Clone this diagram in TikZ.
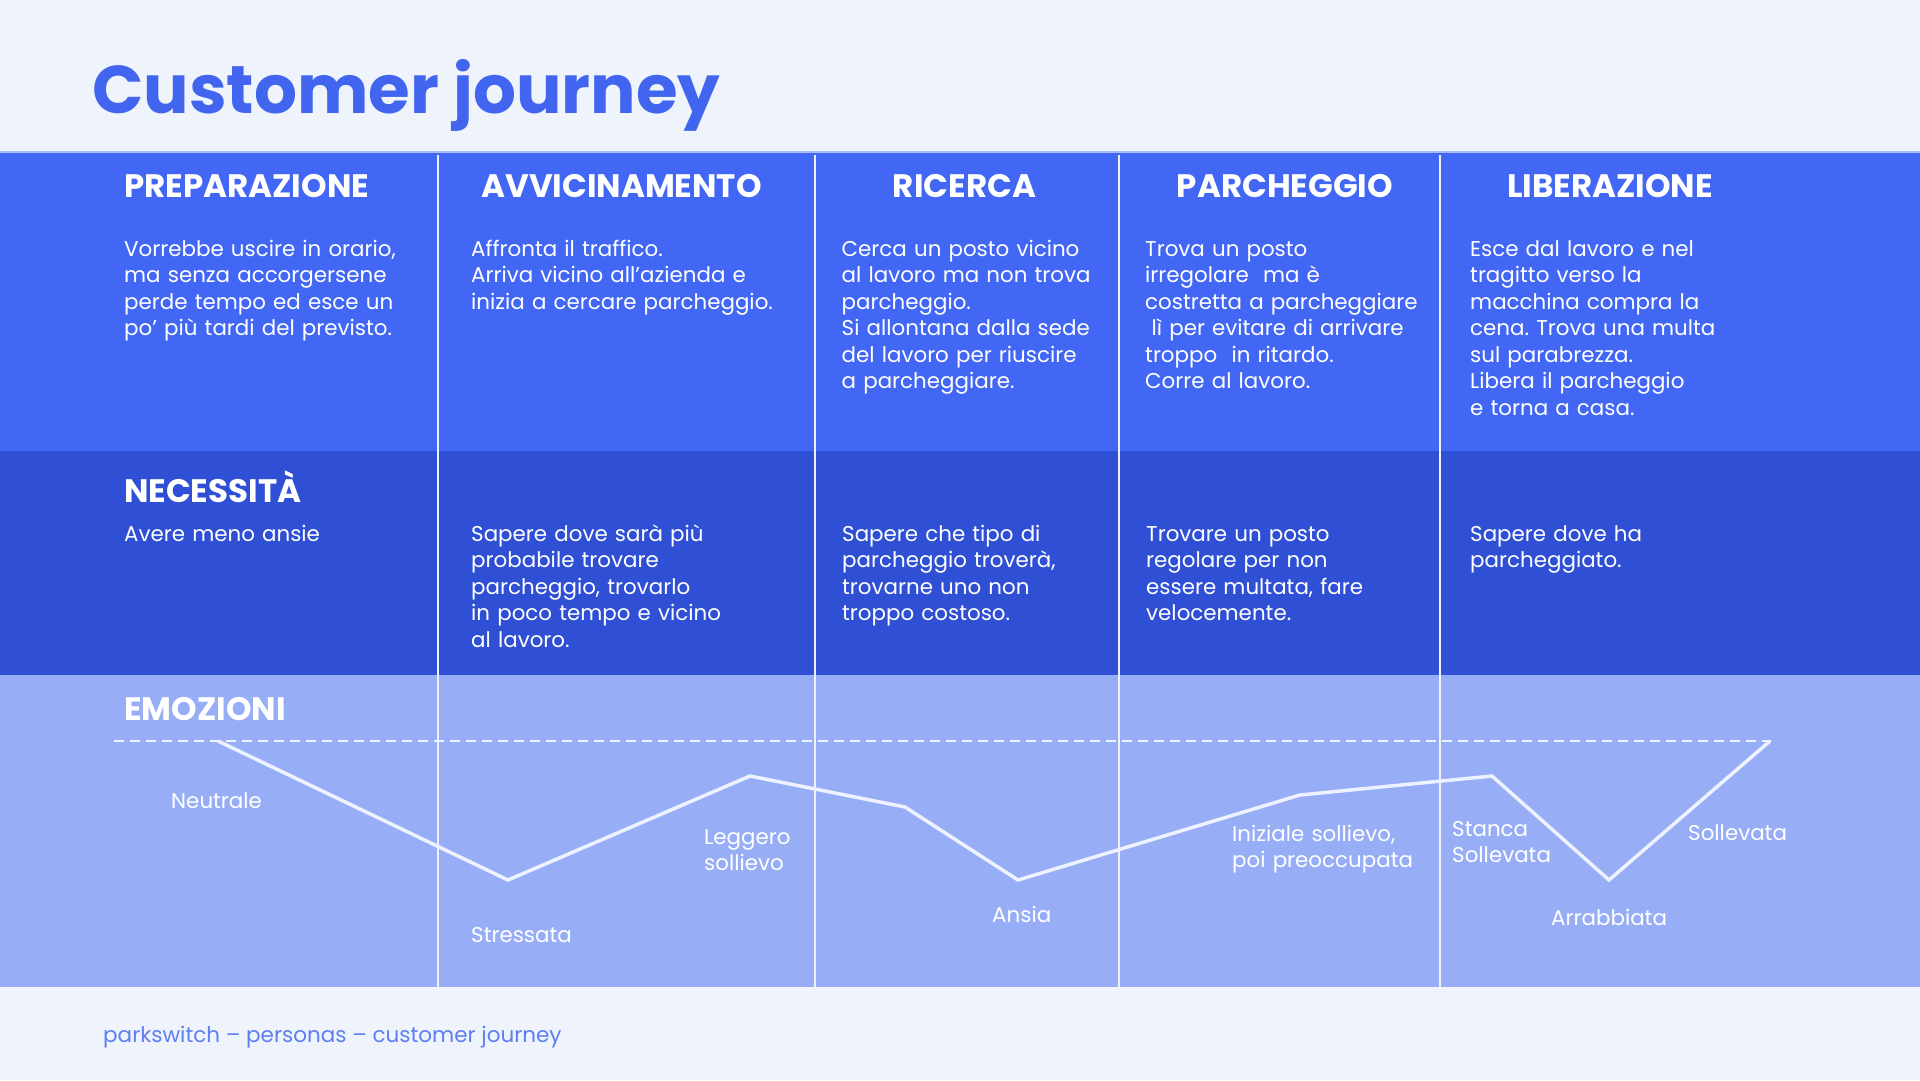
\documentclass[tikz,border=0pt]{standalone}
\usepackage{fontspec}
\setmainfont{Poppins}
\frenchspacing
\definecolor{bgc}{HTML}{EFF4FC}
\definecolor{titlec}{HTML}{4265F0}
\definecolor{topc}{HTML}{4267F5}
\definecolor{midc}{HTML}{2F4FD4}
\definecolor{emoc}{HTML}{97AEF7}
\definecolor{footc}{HTML}{5E7FF0}
\definecolor{linec}{HTML}{EEF1FF}
\definecolor{edgec}{HTML}{A9BCF8}
\tikzset{
  head/.style={anchor=base, inner sep=0pt, text=white, font=\fontsize{32.5}{36}\selectfont\bfseries},
  lefthead/.style={anchor=base west, inner sep=0pt, text=white, font=\fontsize{32.5}{36}\selectfont\bfseries},
  body/.style={anchor=base west, inner sep=0pt, text=white, font=\fontsize{21.4}{26.5}\selectfont, text width=360pt, align=left},
  sepline/.style={draw=linec, line width=2pt},
  curve/.style={draw=linec, line width=3.5pt, line join=miter},
  baseline/.style={draw=linec, line width=2.5pt, dash pattern=on 10pt off 6pt},
}
\begin{document}
\begin{tikzpicture}[x=1pt,y=-1pt]
\useasboundingbox (0,0) rectangle (1920,1080);
\fill[bgc] (0,0) rectangle (1920,1080);
% bands
\fill[topc] (0,152) rectangle (1920,451);
\fill[midc] (0,451) rectangle (1920,675);
\fill[emoc] (0,675) rectangle (1920,987);
\draw[edgec, line width=1.5pt] (0,152) -- (1920,152);
% separators
\foreach \x/\n in {438/s1,815/s2,1119/s3,1440/s4}{
  \coordinate (\n top) at (\x,155);
  \coordinate (\n bot) at (\x,987);
  \draw[sepline] (\n top) -- (\n bot);
}
% title
\node[anchor=base west, inner sep=0pt, text=titlec, font=\fontsize{67.5}{80}\selectfont\bfseries] (title) at (92,113) {Customer journey};
% headers
\node[lefthead] (h1) at (124,197.7) {PREPARAZIONE};
\node[head] (h2) at (621.5,197.7) {AVVICINAMENTO};
\node[head] (h3) at (964.5,197.7) {RICERCA};
\node[head] (h4) at (1285,197.7) {PARCHEGGIO};
\node[head] (h5) at (1610,197.7) {LIBERAZIONE};
% step descriptions
\node[body] (d1) at (124,256) {Vorrebbe uscire in orario,\\ma senza accorgersene\\perde tempo ed esce un\\po’ più tardi del previsto.};
\node[body] (d2) at (471,256) {Affronta il traffico.\\Arriva vicino all’azienda e\\inizia a cercare parcheggio.};
\node[body] (d3) at (841.5,256) {Cerca un posto vicino\\al lavoro ma non trova\\parcheggio.\\Si allontana dalla sede\\del lavoro per riuscire\\a parcheggiare.};
\node[body] (d4) at (1145,256) {Trova un posto\\irregolare\ \ ma è\\costretta a parcheggiare\\\hspace*{0.3em}lì per evitare di arrivare\\troppo\ \ in ritardo.\\Corre al lavoro.};
\node[body] (d5) at (1470,256) {Esce dal lavoro e nel\\tragitto verso la\\macchina compra la\\cena. Trova una multa\\sul parabrezza.\\Libera il parcheggio\\e torna a casa.};
% needs
\node[lefthead] (nh) at (124,502) {NECESSITÀ};
\node[body] (n1) at (124,541) {Avere meno ansie};
\node[body] (n2) at (471,541) {Sapere dove sarà più\\probabile trovare\\parcheggio, trovarlo\\in poco tempo e vicino\\al lavoro.};
\node[body] (n3) at (842,541) {Sapere che tipo di\\parcheggio troverà,\\trovarne uno non\\troppo costoso.};
\node[body] (n4) at (1146,541) {Trovare un posto\\regolare per non\\essere multata, fare\\velocemente.};
\node[body] (n5) at (1470,541) {Sapere dove ha\\parcheggiato.};
% emotions
\node[lefthead] (eh) at (124,720) {EMOZIONI};
\coordinate (dl) at (114,741);
\coordinate (dr) at (1771,741);
\draw[baseline] (dl) -- (dr);
\coordinate (p1) at (218,741);
\coordinate (p2) at (508,880);
\coordinate (p3) at (750,776);
\coordinate (p4) at (905,807);
\coordinate (p5) at (1018,880);
\coordinate (p6) at (1300,795);
\coordinate (p7) at (1492,776);
\coordinate (p8) at (1609,880);
\coordinate (p9) at (1770,741);
\draw[curve] (p1) -- (p2) -- (p3) -- (p4) -- (p5) -- (p6) -- (p7) -- (p8) -- (p9);
\node[body] (e1) at (171,808) {Neutrale};
\node[body] (e2) at (471,942) {Stressata};
\node[body] (e3) at (704,844) {Leggero\\sollievo};
\node[body] (e4) at (992,922) {Ansia};
\node[body] (e5) at (1232,841) {Iniziale sollievo,\\poi preoccupata};
\node[body] (e6) at (1452,836) {Stanca\\Sollevata};
\node[body] (e7) at (1551,925) {Arrabbiata};
\node[body] (e8) at (1688,840) {Sollevata};
% footer
\node[anchor=base west, inner sep=0pt, text=footc, font=\fontsize{21.5}{24}\selectfont] (foot) at (103,1042) {parkswitch – personas – customer journey};
\end{tikzpicture}
\end{document}
